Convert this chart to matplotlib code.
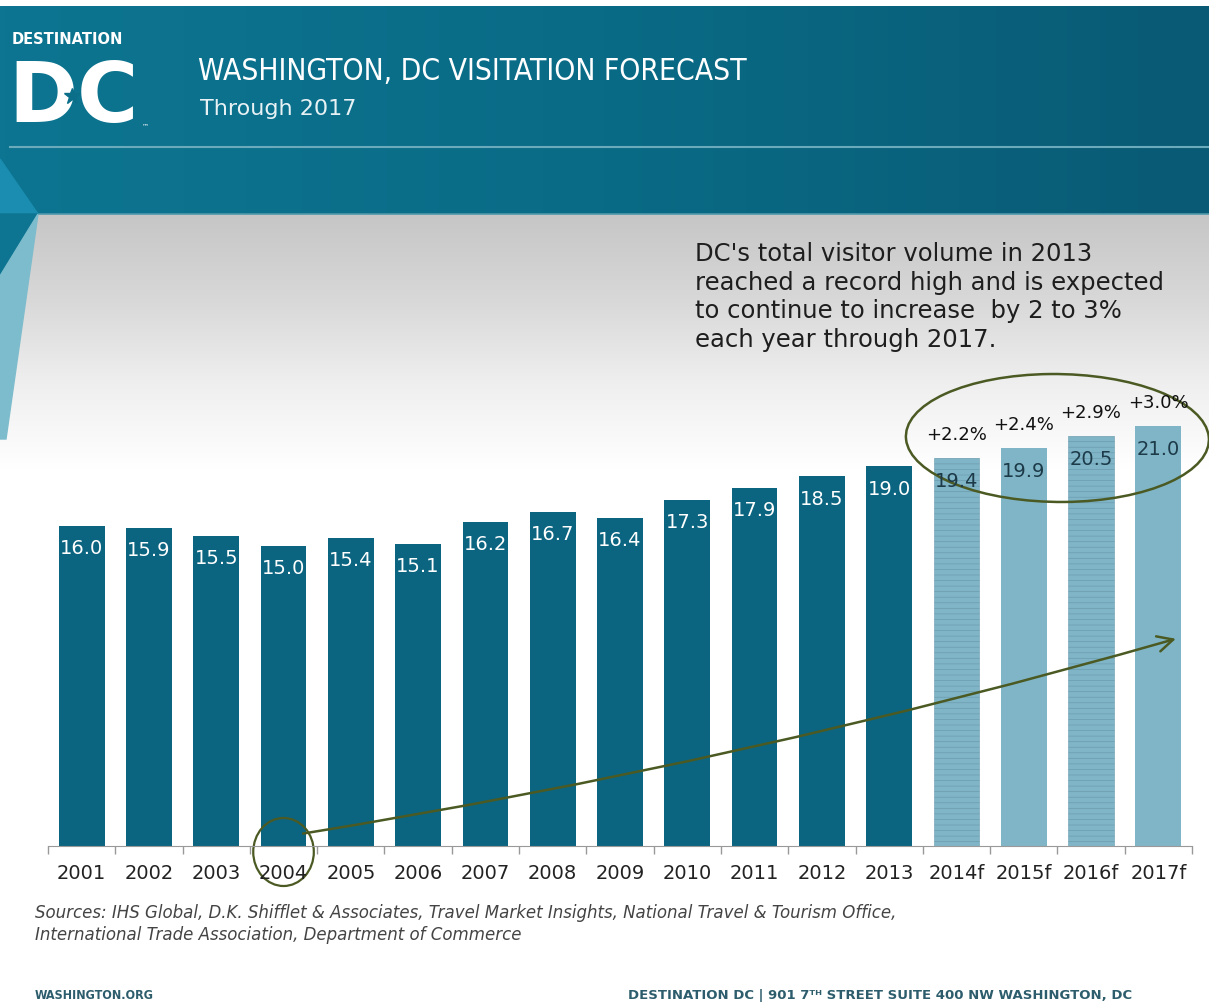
import numpy as np
import matplotlib.pyplot as plt
from matplotlib.patches import Polygon, Ellipse
from matplotlib.colors import LinearSegmentedColormap

# data (millions of visitors)
years = ['2001', '2002', '2003', '2004', '2005', '2006', '2007', '2008', '2009',
         '2010', '2011', '2012', '2013', '2014f', '2015f', '2016f', '2017f']
visitors = [16.0, 15.9, 15.5, 15.0, 15.4, 15.1, 16.2, 16.7, 16.4,
            17.3, 17.9, 18.5, 19.0, 19.4, 19.9, 20.5, 21.0]
growth = ['+2.2%', '+2.4%', '+2.9%', '+3.0%']
n_actual = 13  # 2001-2013 are actuals, rest forecast

DARK = '#0b6480'
LIGHT = '#80b5c7'
HAND = '#4b5a23'

W, H = 1209, 1004
fig = plt.figure(figsize=(W / 100, H / 100), dpi=100)
fig.patch.set_facecolor('white')

# ---- background (pixel coords) ----
bg = fig.add_axes([0, 0, 1, 1], zorder=0)
bg.set_xlim(0, W)
bg.set_ylim(H, 0)
bg.axis('off')

head = np.linspace(0, 1, 256).reshape(1, -1)
hcm = LinearSegmentedColormap.from_list('h', ['#0d7591', '#0a6b86', '#095a74'])
bg.imshow(head, cmap=hcm, extent=(0, W, 215, 7), aspect='auto', zorder=1)
bg.plot([10, W], [148, 148], color='#6aaabb', lw=1.5, zorder=2)
bg.plot([38, W], [215, 215], color='#4f98ab', lw=1.2, zorder=2)

gray = np.linspace(0, 1, 256).reshape(-1, 1)
gcm = LinearSegmentedColormap.from_list('g', ['#c6c6c6', '#d8d8d8', '#efefef', '#ffffff'])
bg.imshow(gray, cmap=gcm, extent=(0, W, 470, 215), aspect='auto', zorder=1)

bg.add_patch(Polygon([(0, 160), (38, 215), (0, 215)], closed=True, color='#1a8db0', zorder=3))
bg.add_patch(Polygon([(0, 215), (38, 215), (0, 277)], closed=True, color='#0d7592', zorder=3))
bg.add_patch(Polygon([(0, 277), (38, 215), (6, 440), (0, 440)], closed=True,
                     color='#7dbccc', zorder=3))

# logo + title
bg.text(12, 40, 'DESTINATION', color='white', fontsize=10.5, fontweight='bold',
        va='center', ha='left', zorder=4)
bg.text(8, 122, 'DC', color='white', fontsize=60, fontweight='bold',
        va='baseline', ha='left', zorder=4)
bg.plot([72], [97], marker='*', color='#0c6f8a', markersize=12, zorder=5)
bg.text(142, 126, '™', color='white', fontsize=5, va='center', zorder=4)
bg.text(198, 80, 'WASHINGTON, DC VISITATION FORECAST', color='white',
        fontsize=21.5, fontstretch='condensed', va='baseline', ha='left', zorder=4)
bg.text(200, 115, 'Through 2017', color='#e8f2f5', fontsize=16,
        va='baseline', ha='left', zorder=4)

# callout text
bg.text(695, 242, "DC's total visitor volume in 2013\nreached a record high and is expected\n"
        "to continue to increase  by 2 to 3%\neach year through 2017.",
        color='#1e1e1e', fontsize=17.5, va='top', ha='left', linespacing=1.24, zorder=4)

# sources and footer
bg.text(35, 924, 'Sources: IHS Global, D.K. Shifflet & Associates, Travel Market Insights, '
        'National Travel & Tourism Office,\nInternational Trade Association, Department of Commerce',
        color='#444444', fontsize=12, style='italic', va='center', ha='left',
        linespacing=1.3, zorder=4)
bg.text(35, 996, 'WASHINGTON.ORG', color='#2d5d6c', fontsize=9, fontweight='bold',
        fontstretch='condensed', va='center', ha='left', zorder=4)
bg.text(628, 996, 'DESTINATION DC | 901 7ᵀᴴ STREET SUITE 400 NW WASHINGTON, DC',
        color='#2d5d6c', fontsize=9.5, fontweight='bold', va='center', ha='left', zorder=4)

# ---- chart ----
ax = fig.add_axes([48 / W, 1 - 847 / H, 1144 / W, (847 - 215) / H], zorder=2)
ax.patch.set_alpha(0)
x = np.arange(len(years))
colors = [DARK] * n_actual + [LIGHT] * (len(years) - n_actual)
plt.rcParams['hatch.linewidth'] = 0.5
bars = ax.bar(x, visitors, width=0.68, color=colors, linewidth=0)
for i, b in enumerate(bars):
    if i >= n_actual and (i - n_actual) % 2 == 0:
        b.set_hatch('---')
        b.set_edgecolor('#6a9cae')
        b.set_linewidth(0.4)

for i, v in enumerate(visitors):
    tc = 'white' if i < n_actual else '#1c3a48'
    ax.text(i, v - 1.1, f'{v:.1f}', color=tc, fontsize=14, ha='center', va='center')
for k, g in enumerate(growth):
    i = n_actual + k
    ax.text(i, visitors[i] + 1.2, g, color='#111111', fontsize=13, ha='center', va='center')

ax.set_xlim(-0.5, len(years) - 0.5)
ax.set_ylim(0, (847 - 215) / 20)
ax.set_xticks(x)
ax.set_xticklabels(years, fontsize=14, color='#222222')
ax.set_xticks(np.arange(-0.5, len(years), 1), minor=True)
ax.tick_params(axis='x', which='major', length=0, pad=12)
ax.tick_params(axis='x', which='minor', length=6, color='#999999', width=1)
ax.set_yticks([])
for s in ['top', 'right', 'left']:
    ax.spines[s].set_visible(False)
ax.spines['bottom'].set_color('#999999')

# hand-drawn marks
ax.add_patch(Ellipse((14.5, 20.4), 4.5, 6.4, angle=2, fill=False, ec=HAND, lw=1.8,
                     clip_on=False))
ax.add_patch(Ellipse((3.0, -0.3), 0.9, 3.4, fill=False, ec=HAND, lw=1.6, clip_on=False))
ax.annotate('', xy=(16.3, 10.4), xytext=(3.25, 0.6),
            arrowprops=dict(arrowstyle='->', color=HAND, lw=1.8, mutation_scale=28,
                            connectionstyle='arc3,rad=0.03'), annotation_clip=False)

fig.savefig('out.png', dpi=100)
